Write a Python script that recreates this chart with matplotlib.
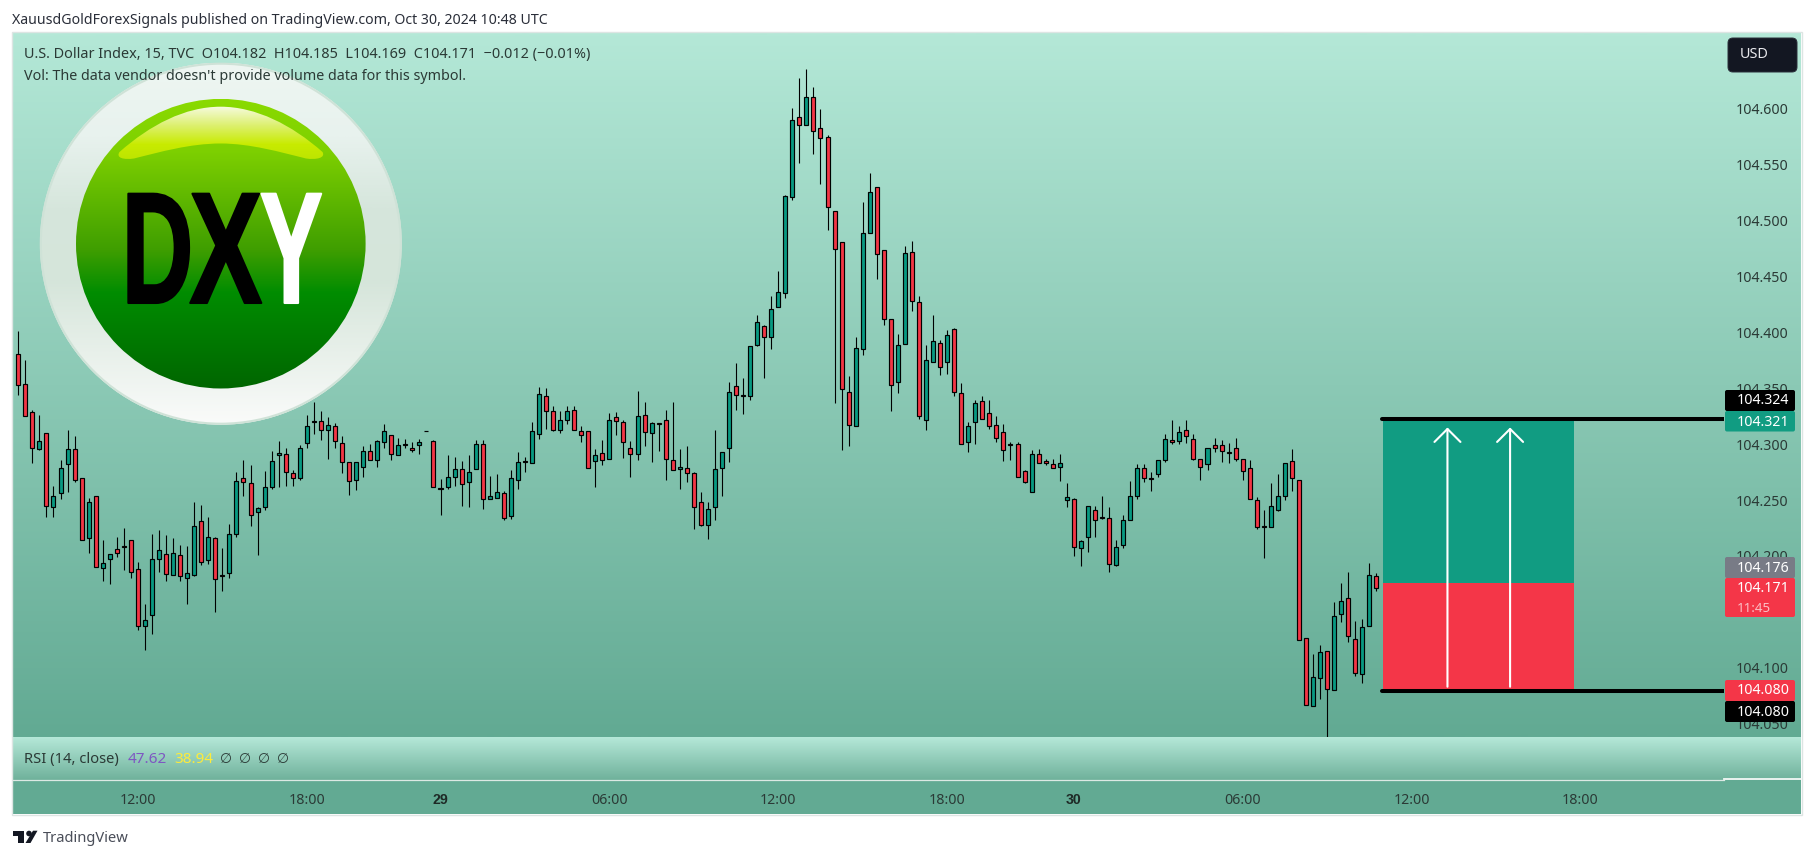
import numpy as np
import matplotlib
matplotlib.use("Agg")
import matplotlib.pyplot as plt
from matplotlib.colors import LinearSegmentedColormap
from matplotlib.patches import Circle, FancyBboxPatch, PathPatch, Polygon, Rectangle, FancyArrowPatch
from matplotlib.path import Path
from matplotlib.patheffects import AbstractPathEffect
from matplotlib.transforms import Affine2D

# ---------- data ----------
opens = [104.381,104.354,104.329,104.296,104.310,104.244,104.256,104.282,104.296,104.270,
104.216,104.254,104.189,104.197,104.206,104.209,104.214,104.188,104.137,104.147,
104.197,104.202,104.183,104.201,104.180,104.183,104.231,104.196,104.216,104.182,
104.185,104.220,104.270,104.265,104.239,104.244,104.262,104.290,104.291,104.274,
104.270,104.301,104.320,104.321,104.313,104.316,104.301,104.284,104.268,104.280,
104.294,104.286,104.302,104.308,104.290,104.299,104.297,104.299,104.312,104.303,
104.260,104.262,104.271,104.278,104.266,104.278,104.300,104.251,104.252,104.256,
104.236,104.268,104.285,104.283,104.309,104.343,104.330,104.313,104.322,104.331,
104.312,104.312,104.285,104.292,104.287,104.324,104.320,104.297,104.291,104.326,
104.310,104.319,104.322,104.286,104.278,104.279,104.274,104.248,104.228,104.244,
104.279,104.297,104.352,104.344,104.343,104.389,104.406,104.396,104.423,104.435,
104.521,104.593,104.586,104.611,104.583,104.575,104.509,104.481,104.347,104.316,
104.385,104.489,104.530,104.474,104.412,104.356,104.390,104.472,104.427,104.322,
104.374,104.391,104.374,104.403,104.346,104.302,104.320,104.339,104.328,104.317,
104.311,104.300,104.300,104.276,104.257,104.291,104.285,104.282,104.280,104.250,
104.251,104.207,104.217,104.241,104.235,104.234,104.192,104.210,104.232,104.254,
104.279,104.270,104.273,104.286,104.304,104.303,104.313,104.305,104.287,104.282,
104.299,104.299,104.293,104.297,104.287,104.279,104.250,104.227,104.226,104.241,
104.254,104.285,104.268,104.127,104.066,104.091,104.115,104.080,104.148,104.162,
104.126,104.094,104.137,104.182]
highs = [104.401,104.375,104.331,104.326,104.310,104.263,104.286,104.313,104.307,104.270,
104.252,104.254,104.214,104.202,104.217,104.225,104.214,104.195,104.157,104.220,
104.223,104.219,104.216,104.210,104.209,104.248,104.246,104.235,104.217,104.207,
104.229,104.275,104.286,104.281,104.244,104.276,104.294,104.303,104.297,104.277,
104.299,104.326,104.338,104.330,104.324,104.319,104.307,104.284,104.284,104.298,
104.300,104.304,104.318,104.308,104.306,104.305,104.302,104.305,104.312,104.304,
104.269,104.290,104.289,104.285,104.290,104.304,104.304,104.272,104.273,104.258,
104.277,104.293,104.289,104.320,104.351,104.350,104.334,104.330,104.334,104.334,
104.316,104.312,104.296,104.304,104.328,104.329,104.322,104.303,104.348,104.338,
104.320,104.319,104.331,104.338,104.296,104.298,104.275,104.257,104.248,104.313,
104.293,104.356,104.373,104.359,104.388,104.416,104.407,104.433,104.455,104.523,
104.601,104.628,104.636,104.620,104.600,104.577,104.509,104.481,104.361,104.396,
104.517,104.543,104.530,104.474,104.412,104.399,104.477,104.482,104.433,104.389,
104.416,104.393,104.402,104.404,104.355,104.320,104.340,104.343,104.340,104.325,
104.318,104.302,104.302,104.277,104.295,104.296,104.287,104.287,104.291,104.265,
104.252,104.214,104.245,104.245,104.254,104.244,104.214,104.237,104.267,104.282,
104.282,104.275,104.286,104.309,104.322,104.316,104.322,104.309,104.287,104.297,
104.306,104.304,104.301,104.306,104.287,104.286,104.253,104.241,104.265,104.273,
104.283,104.296,104.268,104.127,104.112,104.120,104.115,104.159,104.176,104.186,
104.142,104.144,104.194,104.185]
lows = [104.344,104.325,104.283,104.295,104.235,104.235,104.251,104.257,104.266,104.214,
104.203,104.190,104.178,104.175,104.199,104.187,104.180,104.134,104.116,104.130,
104.186,104.178,104.183,104.178,104.157,104.182,104.192,104.193,104.150,104.169,
104.180,104.217,104.254,104.227,104.201,104.241,104.260,104.262,104.263,104.263,
104.268,104.297,104.309,104.304,104.287,104.297,104.274,104.255,104.259,104.271,
104.286,104.280,104.297,104.286,104.290,104.297,104.293,104.291,104.312,104.262,
104.237,104.260,104.263,104.245,104.244,104.278,104.242,104.251,104.252,104.232,
104.233,104.260,104.275,104.283,104.305,104.314,104.312,104.310,104.318,104.313,
104.302,104.279,104.262,104.281,104.287,104.308,104.288,104.271,104.286,104.298,
104.284,104.294,104.268,104.277,104.260,104.266,104.224,104.227,104.215,104.232,
104.254,104.284,104.331,104.327,104.340,104.388,104.359,104.385,104.423,104.431,
104.519,104.552,104.586,104.560,104.533,104.492,104.337,104.295,104.298,104.316,
104.380,104.489,104.448,104.407,104.330,104.346,104.390,104.419,104.323,104.313,
104.374,104.362,104.363,104.343,104.300,104.293,104.300,104.323,104.314,104.302,
104.285,104.286,104.271,104.265,104.257,104.283,104.281,104.279,104.267,104.244,
104.200,104.191,104.204,104.217,104.233,104.186,104.191,104.207,104.232,104.251,
104.266,104.258,104.271,104.284,104.300,104.300,104.301,104.286,104.268,104.277,
104.293,104.284,104.283,104.285,104.268,104.251,104.224,104.198,104.226,104.240,
104.250,104.258,104.125,104.067,104.066,104.072,104.038,104.080,104.141,104.123,
104.093,104.086,104.137,104.169]
closes = [104.353,104.325,104.297,104.303,104.245,104.254,104.279,104.296,104.268,104.214,
104.248,104.190,104.194,104.202,104.203,104.208,104.186,104.137,104.143,104.197,
104.205,104.184,104.203,104.182,104.185,104.227,104.195,104.217,104.179,104.183,
104.220,104.267,104.266,104.237,104.243,104.262,104.285,104.292,104.275,104.270,
104.297,104.316,104.321,104.313,104.317,104.303,104.284,104.267,104.284,104.294,
104.286,104.303,104.312,104.291,104.299,104.300,104.295,104.302,104.312,104.262,
104.261,104.271,104.278,104.264,104.275,104.300,104.251,104.254,104.257,104.234,
104.270,104.284,104.284,104.312,104.345,104.330,104.313,104.322,104.330,104.313,
104.308,104.279,104.290,104.286,104.322,104.321,104.302,104.291,104.325,104.311,
104.319,104.318,104.287,104.277,104.280,104.274,104.244,104.228,104.242,104.278,
104.293,104.347,104.344,104.343,104.388,104.409,104.396,104.421,104.436,104.522,
104.590,104.586,104.611,104.580,104.574,104.512,104.475,104.349,104.317,104.386,
104.489,104.526,104.470,104.412,104.353,104.389,104.471,104.428,104.325,104.375,
104.392,104.369,104.398,104.347,104.300,104.316,104.337,104.323,104.316,104.306,
104.295,104.299,104.271,104.266,104.291,104.283,104.283,104.279,104.283,104.253,
104.208,104.213,104.245,104.232,104.234,104.193,104.208,104.232,104.254,104.279,
104.270,104.269,104.286,104.305,104.302,104.311,104.307,104.287,104.280,104.297,
104.297,104.294,104.292,104.287,104.276,104.251,104.226,104.226,104.245,104.254,
104.283,104.270,104.125,104.067,104.092,104.114,104.081,104.146,104.160,104.128,
104.095,104.136,104.183,104.171]

price_ticks = [104.05, 104.10, 104.15, 104.20, 104.25, 104.30, 104.35, 104.40, 104.45, 104.50, 104.55, 104.60]
time_positions = [17, 41, 60, 84, 108, 132, 150, 174, 198, 222]
time_labels = ["12:00", "18:00", "29", "06:00", "12:00", "18:00", "30", "06:00", "12:00", "18:00"]
bold_labels = ["29", "30"]

target_price = 104.321
entry_price = 104.176
stop_price = 104.080
top_line = 104.323
bottom_line = 104.079
arrow_bars = [203.1, 212.0]
tool_bars = [193.9, 221.1]
arrow_from = 104.083
arrow_to = 104.315

badge_texts = ["104.324", "104.321", "104.176", "104.171", "104.080", "104.080"]

# ---------- style / layout ----------
W, H = 1814, 859
FONT = ["Noto Sans", "DejaVu Sans"]
plt.rcParams["font.family"] = FONT
GREEN, RED = "#089981", "#F23645"
TXT = "#2B3A36"
L, R_PLOT, R_ALL = 13, 1724, 1801
T_MAIN, B_MAIN, B_RSI, B_ALL = 33, 737, 780, 814

fig = plt.figure(figsize=(W / 100, H / 100), dpi=100, facecolor="white")

def rect(l, t, r, b):
    return [l / W, 1 - b / H, (r - l) / W, (b - t) / H]

def pixel_axes(z):
    a = fig.add_axes([0, 0, 1, 1], zorder=z)
    a.set_xlim(0, W); a.set_ylim(H, 0)
    a.axis("off"); a.patch.set_alpha(0)
    return a

def grad(a, colors, l, t, r, b, clip=None, z=1, alpha=None):
    cm = LinearSegmentedColormap.from_list("g", colors)
    im = a.imshow(np.linspace(0, 1, 400)[:, None], cmap=cm, extent=(l, r, b, t),
                  aspect="auto", zorder=z, interpolation="bilinear", alpha=alpha)
    if clip is not None:
        im.set_clip_path(clip)
    a.set_xlim(0, W); a.set_ylim(H, 0)
    return im

under = pixel_axes(1)
ax = fig.add_axes(rect(L, T_MAIN, R_PLOT, B_MAIN), zorder=2)
rsi = fig.add_axes(rect(L, B_MAIN, R_PLOT, B_RSI), zorder=2, sharex=ax)
over = pixel_axes(3)

# pane backgrounds
grad(under, ["#B4E8D7", "#62AA93"], L, T_MAIN, R_ALL, B_MAIN)
grad(under, ["#B5E8D8", "#6FB19B"], L, B_MAIN, R_ALL, B_RSI)
under.add_patch(Rectangle((L, B_RSI), R_ALL - L, B_ALL - B_RSI, fc="#62AA93", ec="none", zorder=1))
under.add_patch(Rectangle((L - 1, T_MAIN - 1), R_ALL - L + 2, B_ALL - T_MAIN + 2, fc="none", ec="#DDE5E3", lw=1, zorder=2))
under.plot([L, R_PLOT], [B_RSI, B_RSI], color="#DCE9E4", lw=0.9, zorder=3)
under.plot([R_PLOT, R_ALL], [B_RSI - 1, B_RSI - 1], color="#F4F8F6", lw=1.3, zorder=3)

# DXY badge
cx, cy = 220.8, 243.7
ring = Circle((cx, cy), 181, transform=under.transData)
grad(under, ["#EEF6F2", "#E8F2EE", "#D6E6DC", "#D5E5DA", "#E8F0EA", "#FAFBFA"], cx - 181, cy - 181, cx + 181, cy + 181, clip=ring, z=4)
under.add_patch(Circle((cx, cy), 180, fc="none", ec="#CFE2D7", lw=1.5, zorder=5))
ball = Circle((cx, cy), 144.8, transform=under.transData)
grad(under, [(0, "#8ADA00"), (0.175, "#7ED000"), (0.52, "#3F9E00"), (0.67, "#008C00"), (1, "#006600")],
     cx - 145, cy - 145, cx + 145, cy + 145, clip=ball, z=6)
gloss_v = [(119.5, 152), (150, 125), (185, 106.7), (220.7, 106.7), (256, 106.7), (292, 125), (322.5, 152),
           (326, 158), (316, 160), (306, 158.5), (280, 152), (250, 143.5), (220.7, 143.5),
           (190, 143.5), (160, 152), (134, 158.5), (124, 160), (115.5, 158), (119.5, 152), (119.5, 152)]
gloss_c = [Path.MOVETO] + [Path.CURVE4] * 18 + [Path.CLOSEPOLY]
gloss = PathPatch(Path(gloss_v, gloss_c), transform=under.transData, fc="none", ec="none")
under.add_patch(gloss)
grad(under, [(0, "#F6FBE0"), (0.35, "#DDF070"), (0.7, "#C8EB00"), (1, "#BCE400")], 115, 106, 327, 161, clip=gloss, z=7)

class Stretch(AbstractPathEffect):
    """Scale a text about its centre (x) and baseline (y), with a heavier outline."""
    def __init__(self, centre, baseline, sx, sy, stroke):
        super().__init__()
        self.centre, self.baseline = centre, baseline
        self.sx, self.sy, self.stroke = sx, sy, stroke
    def draw_path(self, renderer, gc, tpath, affine, rgbFace=None):
        g = renderer.new_gc(); g.copy_properties(gc)
        g.set_foreground(rgbFace); g.set_linewidth(self.stroke)
        aff = affine + (Affine2D().translate(-self.centre, -self.baseline)
                        .scale(self.sx, self.sy).translate(self.centre, self.baseline))
        renderer.draw_path(g, tpath, aff, rgbFace)
        g.restore()

base_y = 303
for ch, col, xc, sx in [("D", "black", 157.5, 1.04), ("X", "black", 225.8, 1.15), ("Y", "white", 291.3, 0.99)]:
    under.text(xc, base_y, ch, color=col, fontsize=68.5, fontweight="bold", ha="center", va="baseline",
               family=["Liberation Sans Narrow", "Liberation Sans"], zorder=8,
               path_effects=[Stretch(xc, H - base_y, sx, 1.67, 1.5)])

# candles
bars = np.arange(len(opens))
o, h, l, c = map(np.array, (opens, highs, lows, closes))
up = c >= o
ax.vlines(bars, l, h, color="black", lw=0.8, zorder=3)
ax.bar(bars, np.abs(c - o), bottom=np.minimum(o, c), width=0.57,
       color=[GREEN if u else RED for u in up], edgecolor="black", linewidth=0.85, zorder=4)

# long position tool
ax.add_patch(Rectangle((tool_bars[0], entry_price), tool_bars[1] - tool_bars[0], target_price - entry_price,
                       fc="#119C82", ec="none", zorder=5))
ax.add_patch(Rectangle((tool_bars[0], stop_price), tool_bars[1] - tool_bars[0], entry_price - stop_price,
                       fc="#F43648", ec="none", zorder=5))
ax.set_xlim(-0.753, 242.4)
ax.set_ylim(104.038, 104.668)
for level in (top_line, bottom_line):
    ax.plot([tool_bars[0] - 0.1, 242.4], [level, level], color="black", lw=2.9, solid_capstyle="round", zorder=6)
for b in arrow_bars:
    ax.add_patch(FancyArrowPatch((b, arrow_from), (b, arrow_to), arrowstyle="->,head_length=0.4,head_width=0.4",
                                 mutation_scale=23.4, color="white", lw=1.5, shrinkA=0, shrinkB=0, zorder=7))

ax.patch.set_alpha(0)
rsi.patch.set_alpha(0)
for a in (ax, rsi):
    for s in a.spines.values():
        s.set_visible(False)
ax.yaxis.tick_right()
ax.set_yticks(price_ticks)
ax.set_yticklabels([f"{p:.3f}" for p in price_ticks])
ax.tick_params(axis="y", length=0, pad=8.6, labelsize=10.2, labelcolor=TXT)
ax.tick_params(axis="x", length=0, labelbottom=False)
rsi.set_yticks([])
rsi.set_xticks(time_positions)
rsi.set_xticklabels(time_labels)
rsi.tick_params(axis="x", length=0, pad=9, labelsize=10.2, labelcolor=TXT)
for lab in rsi.get_xticklabels():
    if lab.get_text() in bold_labels:
        lab.set_fontweight("bold")
        lab.set_family("Liberation Sans")
        lab.set_color("#1E2A26")

# header and legends
over.text(12, 20.5, "XauusdGoldForexSignals published on TradingView.com, Oct 30, 2024 10:48 UTC",
          fontsize=10.2, color="#2A2E39", va="center")
over.text(23.5, 54.5, "U.S. Dollar Index, 15, TVC  O104.182  H104.185  L104.169  C104.171  \u22120.012 (\u22120.01%)",
          fontsize=10.4, color="#2B3A36", va="center")
over.text(23.5, 76.5, "Vol: The data vendor doesn't provide volume data for this symbol.",
          fontsize=10.3, color="#2B3A36", va="center")
over.text(23.5, 759.5, "RSI (14, close)", fontsize=10.6, color=TXT, va="center")
over.text(127.5, 759.5, "47.62", fontsize=11, color="#7E57C2", va="center")
over.text(174, 759.5, "38.94", fontsize=11, color="#FDEB3B", va="center")
for xp in (220, 239, 258, 277):
    over.text(xp, 759, "\u2205", fontsize=10, color=TXT, va="center", family="DejaVu Sans")

# USD button
over.add_patch(FancyBboxPatch((1733, 43), 59, 24, boxstyle="round,pad=5,rounding_size=5", fc="#131722", ec="#2A2E39", lw=0.7))
over.text(1740, 55, "USD", fontsize=10.4, color="#E8E8EC", va="center")

# price badges
badge_boxes = [(390, 411, "black"), (411, 431.5, "#119C82"), (557, 578, "#787B86"),
               (578, 617, "#F43648"), (680, 701, "#F43648"), (701, 722, "black")]
badge_y = [401, 422, 568, 588, 691, 712]
for (t, b, col), txt, yy in zip(badge_boxes, badge_texts, badge_y):
    over.add_patch(FancyBboxPatch((1726, t + 1), 68, b - t - 2, boxstyle="round,pad=1,rounding_size=2", fc=col, ec="none"))
    over.text(1736.5, yy, txt, color="white", fontsize=10.2, va="center")
over.text(1736.5, 608, "11:45", color="#FBC0C6", fontsize=9.6, va="center")

# TradingView mark
over.add_patch(Polygon([(12.7, 830.7), (24, 830.7), (24, 843), (17.5, 843), (17.5, 836), (12.7, 836)], fc="#131722", ec="none"))
over.add_patch(Circle((29, 833.5), 2.8, fc="#131722", ec="none"))
over.add_patch(Polygon([(33, 830.7), (37.5, 830.7), (30.5, 843), (25.5, 843)], fc="#131722", ec="none"))
over.text(42.5, 838, "TradingView", fontsize=10.6, color="#4A4E59", va="center")

fig.savefig("out.png", dpi=100, facecolor="white")
